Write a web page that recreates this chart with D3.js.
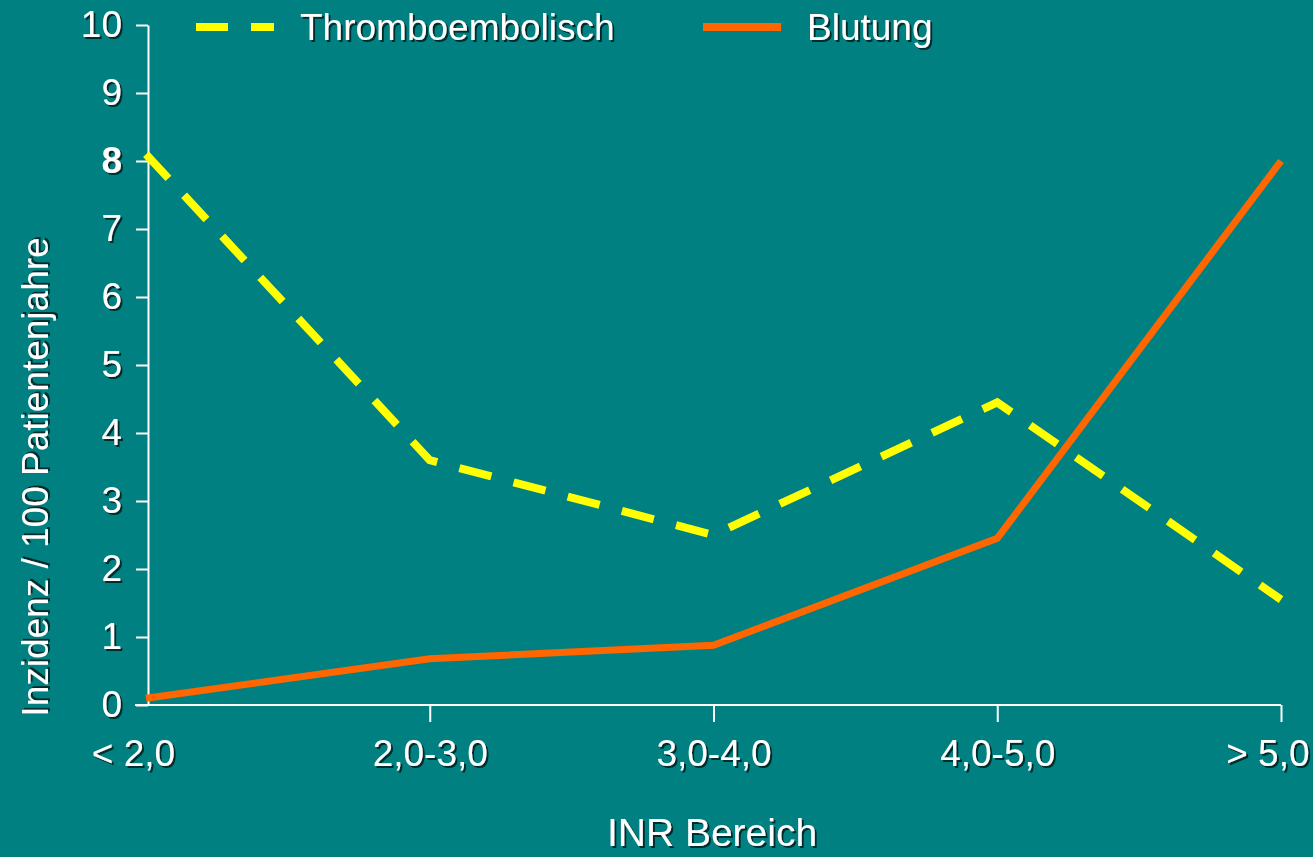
<!DOCTYPE html>
<html>
<head>
<meta charset="utf-8">
<script src="https://cdn.jsdelivr.net/npm/d3@7"></script>
<style>
    html, body { margin: 0; padding: 0; background: #008080; }
    svg text { font-family: "Liberation Sans", Arial, sans-serif; fill: #ffffff; }
</style>
</head>
<body>
<div id="chart"></div>
<script>
const categories = ["< 2,0", "2,0-3,0", "3,0-4,0", "4,0-5,0", "> 5,0"]
const thrombo = [8.1, 3.6, 2.5, 4.45, 1.55]
const blutung = [0.1, 0.68, 0.88, 2.45, 8.0]
const yTicks = [0, 1, 2, 3, 4, 5, 6, 7, 8, 9, 10]
const seriesNames = ["Thromboembolisch", "Blutung"]

const width = 1313, height = 857

const svg = d3.select("#chart")
    .append("svg")
    .attr("width", width)
    .attr("height", height)

// drop shadow for text, like the slide
const defs = svg.append("defs")
defs.append("filter")
    .attr("id", "shadow")
    .attr("x", "-10%").attr("y", "-10%")
    .attr("width", "130%").attr("height", "130%")
    .append("feDropShadow")
    .attr("dx", 2).attr("dy", 2)
    .attr("stdDeviation", 0.6)
    .attr("flood-color", "#002020")
    .attr("flood-opacity", 0.9)

svg.append("rect")
    .attr("width", width)
    .attr("height", height)
    .attr("fill", "#008080")

const x = d3.scalePoint()
    .domain(categories)
    .range([146, 1281])

const y = d3.scaleLinear()
    .domain([0, 10])
    .range([705, 25])

// Y axis
const yAxis = svg.append("g")
    .attr("transform", "translate(148,0)")
    .call(d3.axisLeft(y).tickValues(yTicks).tickSize(12).tickPadding(14).tickSizeOuter(0))
yAxis.select(".domain").attr("stroke", "#fff").attr("stroke-width", 2)
yAxis.selectAll(".tick line").attr("stroke", "#fff").attr("stroke-width", 2)
yAxis.selectAll(".tick text")
    .attr("fill", "#fff")
    .style("font-size", "37px")
    .style("font-family", "Liberation Sans, Arial, sans-serif")
    .style("font-weight", d => d === 8 ? "bold" : "normal")
    .attr("filter", "url(#shadow)")

// X axis
const xAxis = svg.append("g")
    .attr("transform", "translate(0,705)")
    .call(d3.axisBottom(x).tickSize(17).tickPadding(18).tickSizeOuter(0))
xAxis.select(".domain")
    .attr("stroke", "#fff").attr("stroke-width", 2)
    .attr("d", "M135,0H1281")
xAxis.selectAll(".tick line")
    .attr("stroke", "#fff").attr("stroke-width", 2)
    .attr("y2", (d, i) => i === 0 ? 0 : 17)
xAxis.selectAll(".tick text")
    .attr("fill", "#fff")
    .style("font-size", "37px")
    .style("font-family", "Liberation Sans, Arial, sans-serif")
    .attr("filter", "url(#shadow)")
    .attr("text-anchor", (d, i) => i === categories.length - 1 ? "end" : "middle")
    .attr("dx", (d, i) => i === 0 ? -13 : i === categories.length - 1 ? 28 : 0)

// axis titles
svg.append("text")
    .attr("x", 712)
    .attr("y", 846)
    .attr("text-anchor", "middle")
    .style("font-size", "39px")
    .attr("filter", "url(#shadow)")
    .text("INR Bereich")

svg.append("text")
    .attr("transform", "translate(48,477) rotate(-90)")
    .attr("text-anchor", "middle")
    .style("font-size", "37px")
    .attr("filter", "url(#shadow)")
    .text("Inzidenz / 100 Patientenjahre")

const line = d3.line()
    .x((d, i) => x(categories[i]))
    .y(d => y(d))

svg.append("path")
    .datum(blutung)
    .attr("d", line)
    .attr("fill", "none")
    .attr("stroke", "#ff6600")
    .attr("stroke-width", 7)
    .attr("stroke-linejoin", "miter")

svg.append("path")
    .datum(thrombo)
    .attr("d", line)
    .attr("fill", "none")
    .attr("stroke", "#ffff00")
    .attr("stroke-width", 8)
    .attr("stroke-dasharray", "33,23")

// legend
const legend = svg.append("g")
legend.append("line")
    .attr("x1", 196).attr("x2", 274)
    .attr("y1", 27).attr("y2", 27)
    .attr("stroke", "#ffff00")
    .attr("stroke-width", 8)
    .attr("stroke-dasharray", "32,23")
legend.append("text")
    .attr("x", 300).attr("y", 40)
    .style("font-size", "37px")
    .attr("filter", "url(#shadow)")
    .text(seriesNames[0])
legend.append("line")
    .attr("x1", 703).attr("x2", 781)
    .attr("y1", 27).attr("y2", 27)
    .attr("stroke", "#ff6600")
    .attr("stroke-width", 8)
legend.append("text")
    .attr("x", 807).attr("y", 40)
    .style("font-size", "37px")
    .attr("filter", "url(#shadow)")
    .text(seriesNames[1])
</script>
</body>
</html>
